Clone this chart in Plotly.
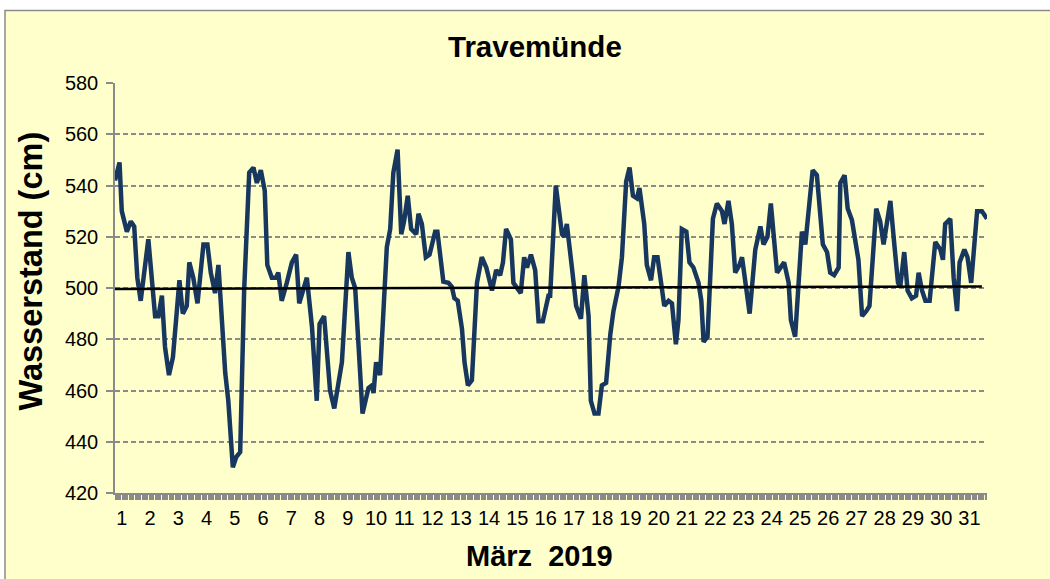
import plotly.graph_objects as go

# ---- data ----
# time in days of March 2019 (fractional), water level in cm
time_days = [
    0.76, 0.92, 1.00, 1.18, 1.32, 1.44, 1.55, 1.67, 1.94, 2.18, 2.30, 2.42, 2.53, 2.67, 2.81,
    3.04, 3.16, 3.30, 3.39, 3.53, 3.68, 3.89, 4.03, 4.15, 4.30, 4.42, 4.66, 4.77, 4.93, 5.05,
    5.19, 5.33, 5.51, 5.66, 5.78, 5.92, 6.06, 6.15, 6.31, 6.46, 6.54, 6.66, 6.84, 7.02, 7.17,
    7.28, 7.55, 7.73, 7.90, 8.00, 8.16, 8.26, 8.37, 8.52, 8.79, 9.02, 9.14, 9.26, 9.52, 9.73,
    9.85, 9.91, 10.00, 10.14, 10.38, 10.50, 10.61, 10.76, 10.89, 10.99, 11.12, 11.24, 11.42, 11.50, 11.62,
    11.76, 11.89, 12.09, 12.17, 12.38, 12.56, 12.68, 12.77, 12.89, 13.04, 13.13, 13.25, 13.39, 13.57, 13.74,
    13.90, 14.10, 14.25, 14.39, 14.49, 14.60, 14.77, 14.86, 15.00, 15.12, 15.24, 15.34, 15.48, 15.63, 15.75,
    15.90, 16.10, 16.16, 16.36, 16.58, 16.66, 16.75, 16.93, 17.08, 17.25, 17.37, 17.52, 17.60, 17.73, 17.87,
    17.99, 18.14, 18.29, 18.40, 18.58, 18.70, 18.85, 18.97, 19.09, 19.23, 19.32, 19.49, 19.58, 19.73, 19.84,
    19.96, 20.20, 20.35, 20.47, 20.61, 20.70, 20.82, 20.98, 21.09, 21.23, 21.41, 21.51, 21.59, 21.73, 21.92,
    22.06, 22.24, 22.33, 22.47, 22.59, 22.71, 22.86, 22.95, 23.22, 23.42, 23.60, 23.71, 23.85, 23.97, 24.19,
    24.44, 24.60, 24.68, 24.83, 24.95, 25.07, 25.19, 25.30, 25.45, 25.60, 25.81, 25.96, 26.07, 26.21, 26.37,
    26.43, 26.58, 26.69, 26.84, 27.07, 27.20, 27.35, 27.46, 27.70, 27.84, 27.96, 28.20, 28.34, 28.47, 28.55,
    28.69, 28.81, 28.96, 29.11, 29.20, 29.32, 29.44, 29.59, 29.79, 29.97, 30.06, 30.14, 30.32, 30.44, 30.56,
    30.65, 30.82, 30.93, 31.06, 31.27, 31.44, 31.62,
]
water_level = [
    542, 549, 530, 522, 526, 524, 504, 495, 519, 489, 489, 497, 477, 466, 473,
    503, 490, 493, 510, 504, 494, 517, 517, 506, 498, 509, 467, 456, 430, 434,
    436, 499, 545, 547, 541, 546, 538, 509, 504, 504, 506, 495, 502, 510, 513,
    494, 504, 485, 456, 486, 489, 473, 460, 453, 471, 514, 504, 500, 451, 461,
    462, 459, 471, 466, 516, 523, 545, 554, 521, 526, 536, 523, 521, 529, 525,
    512, 513, 522, 522, 502.5, 502, 500.5, 496, 495, 484, 471, 462, 464, 502, 512,
    508, 499, 507, 505, 510, 523, 519, 502, 500, 498, 512, 508, 513, 507, 487,
    487, 497, 497, 540, 521, 520, 525, 508, 493, 488, 505, 489, 456, 451, 451,
    462, 463, 482, 491, 500.5, 512, 541.5, 547, 536, 535, 539, 525, 509, 503, 512,
    512, 493, 495, 494, 478, 487.5, 523, 522, 510, 508, 502, 495, 479, 481, 527,
    533, 530, 525, 534, 525, 506, 509, 512, 490, 515, 524, 517, 520, 533, 506,
    510, 502, 487.5, 481, 502, 522, 517, 528, 546, 544, 517, 514, 506, 505, 508,
    541, 544, 531, 526.5, 511, 489, 491, 493, 531, 526, 517, 534, 517, 502, 500.5,
    514, 499, 496, 497, 506, 499, 495, 495, 518, 515, 511, 525, 527, 504, 491,
    510, 515, 512, 502, 530, 530, 527,
]
# linear trend line (start / end)
trend_days = [0.76, 31.44]
trend_level = [499.6, 500.6]

day_ticks = list(range(1, 32))
day_labels = [str(d) for d in day_ticks]

title_text = "Travemünde"
y_title = "Wasserstand (cm)"
x_title = "März\u00a0 2019"

# ---- layout geometry (pixels) ----
W, H = 1050, 579
L, R, T, B = 115, 63, 83, 86
pw, ph = W - L - R, H - T - B


def px(x):
    return (x - L) / pw


def py(y):
    return (H - B - y) / ph


FONT = "Liberation Sans, Arial, sans-serif"
GRAY = "#8a8a8a"
YELLOW = "#FFFFCC"

fig = go.Figure()
fig.add_trace(go.Scatter(
    x=time_days, y=water_level, mode="lines",
    line=dict(color="#17375E", width=4.5), hoverinfo="skip", showlegend=False,
))
fig.add_trace(go.Scatter(
    x=trend_days, y=trend_level, mode="lines",
    line=dict(color="black", width=2.5), hoverinfo="skip", showlegend=False,
))

fig.update_layout(
    width=W, height=H,
    margin=dict(l=L, r=R, t=T, b=B, pad=0),
    paper_bgcolor="white",
    plot_bgcolor="white",
    font=dict(family=FONT, size=20, color="black"),
    showlegend=False,
    shapes=[dict(
        type="rect", xref="paper", yref="paper", layer="below",
        x0=px(5), x1=px(1070), y0=py(600), y1=py(10.5),
        fillcolor=YELLOW, line=dict(color=GRAY, width=1.5),
    )],
    annotations=[
        dict(text="<b>" + title_text + "</b>", x=px(534.5), y=py(47), xref="paper", yref="paper",
             showarrow=False, xanchor="center", yanchor="middle", font=dict(size=29.5, family=FONT)),
        dict(text="<b>" + x_title + "</b>", x=px(539), y=py(556), xref="paper", yref="paper",
             showarrow=False, xanchor="center", yanchor="middle", font=dict(size=29, family=FONT)),
        dict(text="<b>" + y_title + "</b>", x=px(30), y=py(271.5), xref="paper", yref="paper",
             showarrow=False, xanchor="center", yanchor="middle", textangle=-90,
             font=dict(size=32.5, family=FONT)),
    ],
)

fig.update_xaxes(
    range=[0.76, 31.62], tickmode="array", tickvals=day_ticks, ticktext=day_labels,
    ticks="", showgrid=False, zeroline=False, showline=True, linecolor=GRAY, linewidth=1.5,
    tickfont=dict(size=20, family=FONT), ticklabelstandoff=6,
    minor=dict(ticks="outside", ticklen=5, tickcolor=GRAY, tickwidth=1, dtick=1 / 24,
               tick0=0.76, showgrid=False),
)
fig.update_yaxes(
    range=[420, 580], dtick=20, tick0=420,
    showgrid=True, gridcolor=GRAY, gridwidth=1.5, griddash="5px,3px",
    zeroline=False, showline=True, linecolor=GRAY, linewidth=1.5,
    ticks="outside", ticklen=7, tickcolor=GRAY, tickwidth=1.5,
    tickfont=dict(size=20, family=FONT), ticklabelstandoff=4,
)

fig.write_html(
    "out.html",
    config={"displayModeBar": False},
    post_script="document.body.style.margin='0';document.body.style.overflow='hidden';",
)
